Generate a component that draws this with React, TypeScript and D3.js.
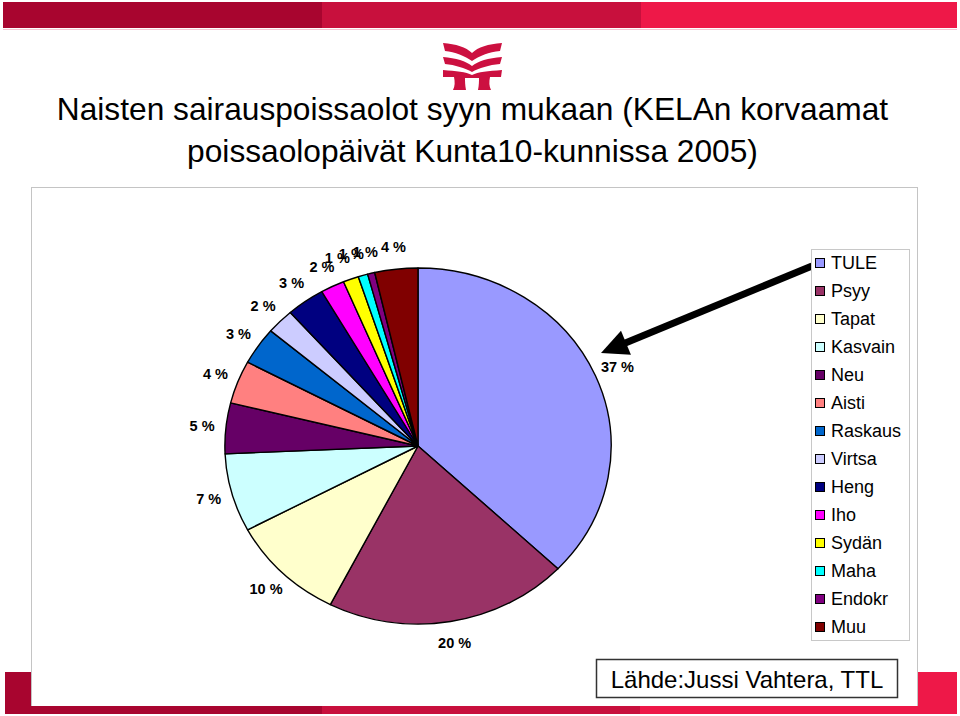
import React from "react";
import * as d3 from "d3";

const categories = ["TULE", "Psyy", "Tapat", "Kasvain", "Neu", "Aisti", "Raskaus", "Virtsa", "Heng", "Iho", "Sydän", "Maha", "Endokr", "Muu"];
const values = [37.1, 20.4, 9.7, 7.1, 4.6, 3.9, 3.4, 2.3, 3.2, 2.0, 1.3, 0.8, 0.6, 3.6];
const colors = ["#9999FF", "#993366", "#FFFFCC", "#CCFFFF", "#660066", "#FF8080", "#0066CC", "#CCCCFF", "#000080", "#FF00FF", "#FFFF00", "#00FFFF", "#800080", "#800000"];
const titleLines = ["Naisten sairauspoissaolot syyn mukaan (KELAn korvaamat", "poissaolopäivät Kunta10-kunnissa 2005)"];
const sourceText = "Lähde:Jussi Vahtera, TTL";

const FONT = "'Liberation Sans', Arial, Helvetica, sans-serif";

export default function App() {
  const W = 960, H = 716;
  const cx = 418, cy = 446, R = 178, sx = 1.085;
  const pie = d3.pie<number>().sort(null).value((d) => d);
  const arcs = pie(values);
  const arc = d3.arc<d3.PieArcDatum<number>>().innerRadius(0).outerRadius(R);
  const labelR = 200;
  const total = d3.sum(values);

  const legendY = d3.scaleLinear().domain([0, categories.length - 1]).range([263, 627]);

  const logo = "#CC1040";

  // label positions, with small slices at the top pushed apart horizontally
  const labels = arcs.map((a, i) => {
    const m = (a.startAngle + a.endAngle) / 2;
    return { x: cx + sx * labelR * Math.sin(m), y: cy - labelR * Math.cos(m), i };
  });
  for (let k = labels.length - 2; k >= 0; k--) {
    const cur = labels[k], next = labels[k + 1];
    if (cur.y < cy && next.y < cy && Math.abs(cur.y - next.y) < 14 && next.x - cur.x < 14) {
      cur.x = next.x - 14;
    }
  }

  // arrow
  const ax0 = 812, ay0 = 266, ax1 = 601, ay1 = 353;
  const ang = Math.atan2(ay1 - ay0, ax1 - ax0);
  const headL = 27, headW = 13;
  const bx = ax1 - headL * Math.cos(ang), by = ay1 - headL * Math.sin(ang);
  const px = -Math.sin(ang), py = Math.cos(ang);

  return (
    <div style={{ position: "absolute", left: 0, top: 0 }}>
      <svg width={W} height={H} style={{ display: "block" }} fontFamily={FONT}>
        <rect x={0} y={0} width={W} height={H} fill="#fff" />
        {/* top bar */}
        <rect x={3} y={2} width={319} height={26} fill="#A8052F" />
        <rect x={322} y={2} width={319} height={26} fill="#C8103D" />
        <rect x={641} y={2} width={316} height={26} fill="#EE1848" />
        <line x1={3} x2={957} y1={29.5} y2={29.5} stroke="#F6C6D2" strokeWidth={1} />

        {/* logo */}
        <g fill={logo}>
          <path d="M443,43 C456,44 466,47 472,53 C478,47 488,44 502,43 L500,51 C489,52 479,56 472,61 C465,56 455,52 445,51 Z" />
          <path d="M443,57 C456,58 466,61 472,66 C478,61 488,58 502,57 L500,64 C489,65 479,68 472,72 C465,68 455,65 445,64 Z" />
          <path d="M443,70 C456,71 466,72 472,75 C478,72 488,71 502,70 L501,77 L490,77 C489,82 489,86 491,90 L478,90 C479,85 479,81 479,78 L465,78 C465,81 465,85 466,90 L453,90 C455,86 455,82 454,77 L443,77 Z" />
        </g>

        {/* title */}
        <g fontSize={31.7} fill="#000" textAnchor="middle">
          <text x={472.5} y={120}>{titleLines[0]}</text>
          <text x={472.5} y={162}>{titleLines[1]}</text>
        </g>

        {/* chart frame */}
        <rect x={31.5} y={187.5} width={886} height={519} fill="none" stroke="#C4C4C4" strokeWidth={1} />

        {/* pie */}
        <g transform={`translate(${cx},${cy}) scale(${sx},1)`}>
          {arcs.map((a, i) => (
            <path key={i} d={arc(a) || ""} fill={colors[i]} stroke="#000" strokeWidth={1.4} vectorEffect="non-scaling-stroke" strokeLinejoin="round" />
          ))}
        </g>
        <g fontSize={14.5} fontWeight="bold" fill="#000" textAnchor="middle">
          {labels.map((l) => (
            <text key={l.i} x={l.x} y={l.y} dominantBaseline="central">
              {`${Math.round((values[l.i] / total) * 100)} %`}
            </text>
          ))}
        </g>

        {/* arrow */}
        <line x1={ax0} y1={ay0} x2={bx + 2 * Math.cos(ang)} y2={by + 2 * Math.sin(ang)} stroke="#000" strokeWidth={7} />
        <path d={`M${ax1},${ay1} L${bx + headW * px},${by + headW * py} L${bx - headW * px},${by - headW * py} Z`} fill="#000" />

        {/* legend */}
        <rect x={811.5} y={249.5} width={98} height={391} fill="#fff" stroke="#C8C8C8" strokeWidth={1} />
        <g fontSize={18} fill="#000">
          {categories.map((c, i) => (
            <g key={c} transform={`translate(0,${legendY(i)})`}>
              <rect x={815.5} y={-4.5} width={9} height={9} fill={colors[i]} stroke="#000" strokeWidth={1} />
              <text x={831} y={0} dominantBaseline="central">{c}</text>
            </g>
          ))}
        </g>

        {/* bottom frame */}
        <rect x={5} y={672} width={26} height={42} fill="#A8052F" />
        <rect x={31} y={706} width={291} height={8} fill="#A8052F" />
        <rect x={322} y={706} width={318} height={8} fill="#C8103D" />
        <rect x={640} y={706} width={317} height={8} fill="#EE1848" />
        <rect x={918} y={672} width={39} height={42} fill="#EE1848" />

        {/* source box */}
        <rect x={596.5} y={659.5} width={301} height={38} fill="#fff" stroke="#333" strokeWidth={1.5} />
        <text x={747} y={679} fontSize={24} textAnchor="middle" dominantBaseline="central" fill="#000">{sourceText}</text>
      </svg>
    </div>
  );
}
